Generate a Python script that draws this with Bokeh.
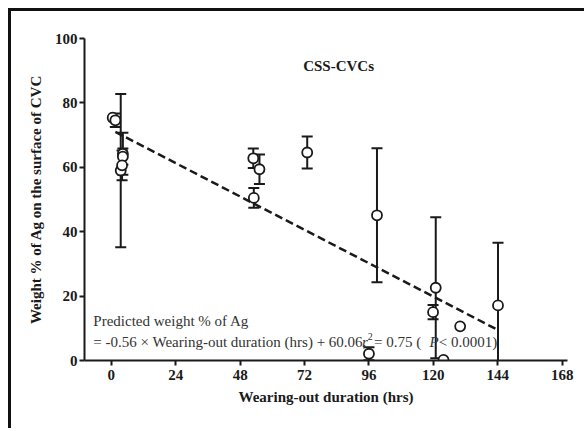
from bokeh.plotting import figure
from bokeh.models import ColumnDataSource, Whisker, Range1d, FixedTicker, Label, TeeHead
from bokeh.embed import file_html
from bokeh.resources import INLINE

# ---- data ----
hours = [0.5, 1.5, 3.5, 4.3, 4.3, 4.0, 52.9, 55.2, 53.1, 73.0, 96.0, 99.0,
         119.9, 120.9, 123.8, 130.0, 144.1]
weight = [75.4, 74.6, 59.0, 64.2, 63.3, 60.6, 62.8, 59.4, 50.5, 64.6, 2.1, 45.1,
          15.0, 22.6, 0.2, 10.6, 17.1]
sd = [0.0, 2.1, 23.8, 6.5, 2.5, 4.6, 3.0, 4.6, 3.1, 5.0, 2.0, 20.8,
      2.2, 21.9, 0.0, 0.0, 19.5]
fit_hours = [1.5, 144.0]
fit_weight = [71.0, 9.5]
x_ticks = [0, 24, 48, 72, 96, 120, 144, 168]
y_ticks = [0, 20, 40, 60, 80, 100]

SERIF = "Liberation Serif"
INK = "#1a1a1a"
TXT = "#333333"

p = figure(width=576, height=420,
           x_range=Range1d(-10, 170), y_range=Range1d(0, 100),
           output_backend="svg", toolbar_location=None,
           min_border_left=73, min_border_right=20,
           min_border_top=27, min_border_bottom=71)
p.styles = {"margin-left": "8px", "margin-top": "8px",
            "border-left": "3px solid #111111", "border-top": "3px solid #111111"}
p.outline_line_color = None
p.xgrid.visible = False
p.ygrid.visible = False
p.background_fill_color = "white"
p.border_fill_color = "white"

for ax, ticks in ((p.xaxis[0], x_ticks), (p.yaxis[0], y_ticks)):
    ax.ticker = FixedTicker(ticks=ticks)
    ax.axis_line_width = 2
    ax.axis_line_color = INK
    ax.major_tick_line_width = 2
    ax.major_tick_line_color = INK
    ax.major_tick_out = 5
    ax.major_tick_in = 0
    ax.minor_tick_line_color = None
    ax.major_label_text_font = SERIF
    ax.major_label_text_font_style = "bold"
    ax.major_label_text_font_size = "15px"
    ax.major_label_text_color = INK
    ax.axis_label_text_font = SERIF
    ax.axis_label_text_font_style = "bold"
    ax.axis_label_text_font_size = "15px"
    ax.axis_label_text_color = INK

p.xaxis.axis_label = "Wearing-out duration (hrs)"
p.yaxis.axis_label = "Weight % of Ag on the surface of CVC"
p.xaxis.major_label_standoff = 4
p.yaxis.major_label_standoff = 2
p.xaxis.axis_label_standoff = 6
p.yaxis.axis_label_standoff = 8

# error bars (only where there is a spread)
eb_x = [h for h, s in zip(hours, sd) if s > 0]
eb_lo = [w - s for w, s in zip(weight, sd) if s > 0]
eb_hi = [w + s for w, s in zip(weight, sd) if s > 0]
eb_src = ColumnDataSource(data=dict(x=eb_x, lower=eb_lo, upper=eb_hi))
wh = Whisker(base="x", lower="lower", upper="upper", source=eb_src,
             line_width=2, line_color=INK, level="underlay",
             upper_head=TeeHead(size=11, line_width=2, line_color=INK),
             lower_head=TeeHead(size=11, line_width=2, line_color=INK))
p.add_layout(wh)

# regression line
p.line(fit_hours, fit_weight, line_width=2.5, line_color=INK, line_dash="8 4")

# data points
p.scatter(hours, weight, marker="circle", size=10, fill_color="white",
          line_color=INK, line_width=1.8)

# annotations
p.add_layout(Label(x=84.7, y=91.6, text="CSS-CVCs", text_font=SERIF,
                   text_font_style="bold", text_font_size="15px",
                   text_color=INK, text_align="center", text_baseline="middle"))

lab_kw = dict(text_font=SERIF, text_font_size="15px", text_color=TXT,
              text_align="left", text_baseline="middle")
p.add_layout(Label(x=-6.7, y=12.4, text="Predicted weight % of Ag", **lab_kw))
p.add_layout(Label(x=-6.7, y=5.9,
                   text="= -0.56 \u00d7  Wearing-out duration (hrs) + 60.06,", **lab_kw))
p.add_layout(Label(x=93.4, y=5.9, text="r", text_font_style="italic", **lab_kw))
sup_kw = dict(lab_kw)
sup_kw["text_font_size"] = "10px"
p.add_layout(Label(x=95.6, y=5.9, y_offset=5, text="2", **sup_kw))
p.add_layout(Label(x=97.9, y=5.9, text="= 0.75 (", **lab_kw))
p.add_layout(Label(x=118.6, y=5.9, text="P", text_font_style="italic", **lab_kw))
p.add_layout(Label(x=122.0, y=5.9, text="< 0.0001)", **lab_kw))

open("out.html", "w").write(file_html(p, INLINE))
